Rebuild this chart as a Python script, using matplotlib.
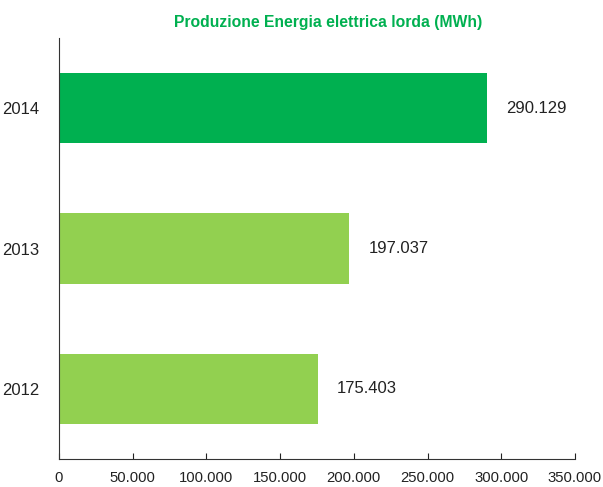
import matplotlib
matplotlib.use("Agg")
from matplotlib import pyplot as plt
from matplotlib.ticker import FuncFormatter

years = ["2012", "2013", "2014"]
values = [175403, 197037, 290129]
colors = ["#92D050", "#92D050", "#00B050"]
xticks = [0, 50000, 100000, 150000, 200000, 250000, 300000, 350000]


def it_fmt(v, pos=None):
    return f"{int(round(v)):,}".replace(",", ".")


def main():
    plt.rcParams["font.family"] = ["Liberation Sans Narrow", "Liberation Sans", "DejaVu Sans"]

    fig = plt.figure(figsize=(6.03, 4.87), dpi=100)
    ax = fig.add_axes([59 / 603, 28 / 487, 516 / 603, 421 / 487])

    ax.barh(years, values, height=0.5, color=colors)
    for i, v in enumerate(values):
        ax.annotate(it_fmt(v), (v, i), xytext=(14, 0), textcoords="offset points",
                    va="center", ha="left", fontsize=12, color="#222222")

    ax.set_xlim(0, 350000)
    ax.set_ylim(-0.5, 2.5)
    ax.set_xticks(xticks)
    ax.xaxis.set_major_formatter(FuncFormatter(it_fmt))
    ax.tick_params(axis="x", direction="in", length=4, pad=9, labelsize=10.7,
                   colors="#222222")
    ax.tick_params(axis="y", length=0, pad=14, labelsize=12, colors="#222222")

    for side in ["top", "right"]:
        ax.spines[side].set_visible(False)
    ax.spines["left"].set_color("#333333")
    ax.spines["bottom"].set_color("#333333")

    fig.text(328 / 603, 1 - 22 / 487, "Produzione Energia elettrica lorda (MWh)",
             ha="center", va="center", fontsize=11.3, fontweight="bold",
             color="#00B050")

    fig.savefig("out.png", dpi=100)
    plt.close(fig)


if __name__ == "__main__":
    main()
